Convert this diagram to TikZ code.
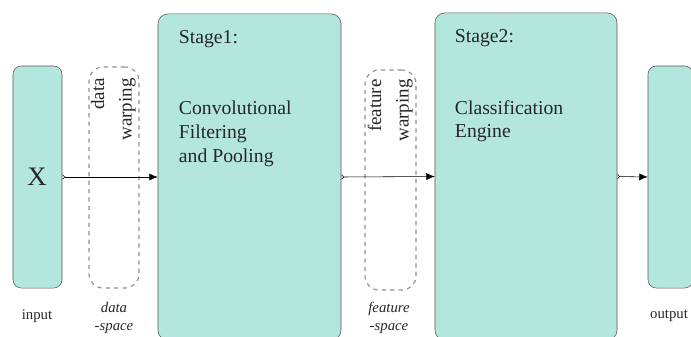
\documentclass[tikz,border=0pt]{standalone}
\usepackage{fontspec}
\setmainfont{Liberation Serif}
\usetikzlibrary{positioning,arrows.meta}

\definecolor{blockfill}{HTML}{B3E6DD}
\definecolor{blockline}{HTML}{595959}
\definecolor{warpline}{HTML}{8F8F8F}
\definecolor{inktext}{HTML}{262626}

\begin{document}
\begin{tikzpicture}[x=0.025cm,y=-0.025cm,
      block/.style = {draw=blockline, fill=blockfill, rounded corners=6pt,
                      inner sep=0pt},
      warp/.style  = {draw=warpline, dashed, thick, rounded corners=10pt,
                      inner sep=0pt},
      flow/.style  = {thin, {Straight Barb[reversed,length=1.5pt,width=3pt]}-{Latex[length=6pt,width=5pt]}},
      warptext/.style = {rotate=90, align=right, anchor=south east, inner sep=0pt,
                      text=inktext, font=\fontsize{13.5}{19.5}\selectfont},
      stagetext/.style = {anchor=north west, align=left, inner sep=0pt,
                      text=inktext, font=\fontsize{14}{17}\selectfont},
      caption/.style = {align=center, inner sep=0pt, text=inktext,
                      font=\fontsize{10.5}{13}\selectfont}
]
   \useasboundingbox (0,0) rectangle (691,336);

   % input, stages and output
   \node[block, minimum width=1.225cm, minimum height=5.55cm] (input) at (37.5,177) {};
   \node[block, rounded corners=7pt, minimum width=4.575cm, minimum height=8.15cm] (stage1) at (249.5,177) {};
   \node[block, rounded corners=7pt, minimum width=4.55cm, minimum height=8.175cm] (stage2) at (526,176.5) {};
   \node[block, minimum width=1.125cm, minimum height=5.55cm] (output) at (670.5,177) {};

   % warping regions
   \node[warp, minimum width=1.25cm, minimum height=5.525cm] (dwarp) at (114,177.5) {};
   \node[warp, minimum width=1.275cm, minimum height=5.5cm] (fwarp) at (390.5,180) {};

   \node[text=inktext, font=\fontsize{19}{22}\selectfont, inner sep=0pt] (x) at (37,177) {X};

   \node[warptext] (dwarptxt) at (136,78) {data\\warping};
   \node[warptext] (fwarptxt) at (413,79) {feature\\warping};

   \node[stagetext, below right=0.42cm and 0.525cm of stage1.north west] (s1title) {Stage1:};
   \node[stagetext, below right=2.18cm and 0.525cm of stage1.north west] (s1body)
      {Convolutional\\Filtering\\and Pooling};
   \node[stagetext, below right=0.42cm and 0.5cm of stage2.north west] (s2title) {Stage2:};
   \node[stagetext, below right=2.18cm and 0.5cm of stage2.north west] (s2body)
      {Classification\\Engine};

   \node[caption] (incap) at (37,316) {input};
   \node[caption, font=\fontsize{10.5}{13}\selectfont\itshape] (dcap) at (114,318) {data\\-space};
   \node[caption, font=\fontsize{10.5}{13}\selectfont\itshape] (fcap) at (389,318) {feature\\-space};
   \node[caption] (outcap) at (669,316) {output};

   \draw[flow] (input.east) -- (stage1.west);
   \draw[flow] (stage1.east) -- (stage2.west);
   \draw[flow] (stage2.east) -- (output.west);
\end{tikzpicture}
\end{document}
